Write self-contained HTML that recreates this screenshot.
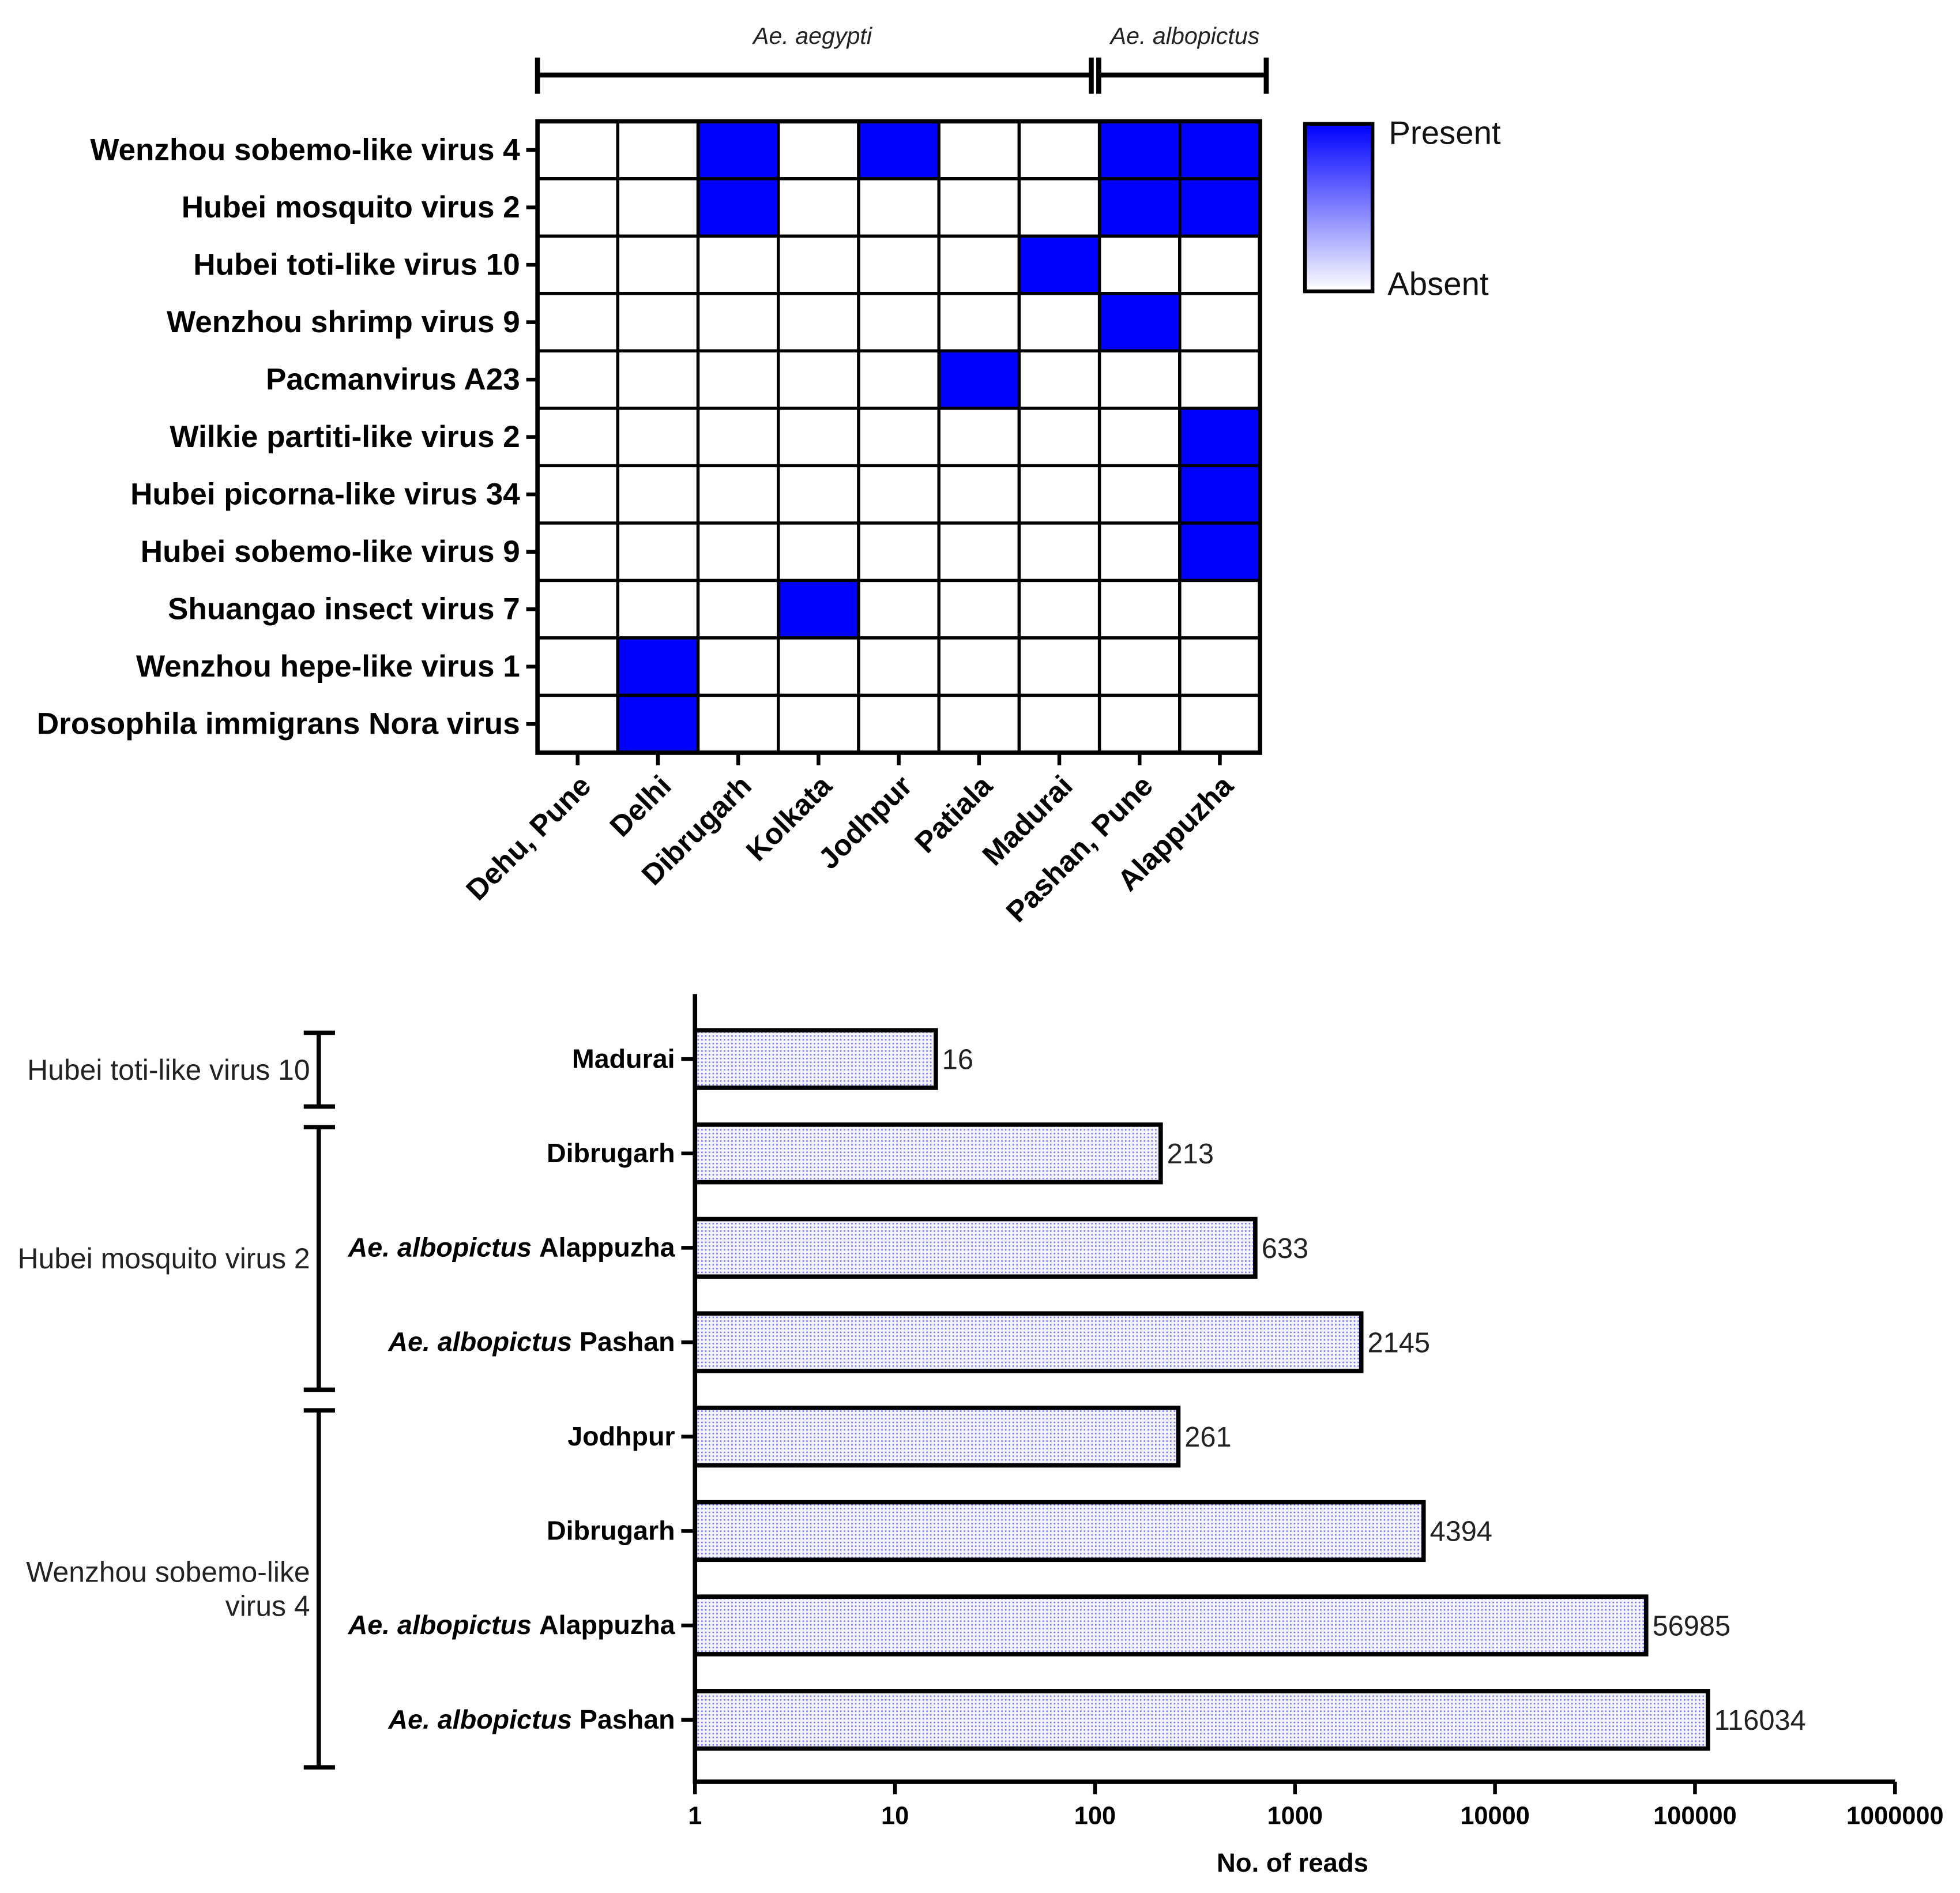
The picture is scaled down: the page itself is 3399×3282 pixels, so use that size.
<!DOCTYPE html>
<html><head><meta charset="utf-8"><style>
html,body{margin:0;padding:0;background:#fff;}
svg{display:block;font-family:"Liberation Sans",Arial,sans-serif;}
</style></head><body>
<svg id="fig" width="3399" height="3282" viewBox="0 0 1568 1514" xmlns="http://www.w3.org/2000/svg">
<defs>
<linearGradient id="lg" x1="0" y1="0" x2="0" y2="1"><stop offset="0" stop-color="#0000ff"/><stop offset="1" stop-color="#ffffff"/></linearGradient>
<pattern id="dots" width="3" height="3" patternUnits="userSpaceOnUse"><rect width="3" height="3" fill="#f4f4ff"/><rect x="0" y="0" width="1.2" height="1.2" fill="#7777ee"/></pattern>
</defs>
<g id="heat"></g>
<g id="bars"></g>
</svg>
<script>
const rowNames=["Wenzhou sobemo-like virus 4","Hubei mosquito virus 2","Hubei toti-like virus 10","Wenzhou shrimp virus 9","Pacmanvirus A23","Wilkie partiti-like virus 2","Hubei picorna-like virus 34","Hubei sobemo-like virus 9","Shuangao insect virus 7","Wenzhou hepe-like virus 1","Drosophila immigrans Nora virus"];
const colNames=["Dehu, Pune","Delhi","Dibrugarh","Kolkata","Jodhpur","Patiala","Madurai","Pashan, Pune","Alappuzha"];
const presence=[
[0,0,1,0,1,0,0,1,1],
[0,0,1,0,0,0,0,1,1],
[0,0,0,0,0,0,1,0,0],
[0,0,0,0,0,0,0,1,0],
[0,0,0,0,0,1,0,0,0],
[0,0,0,0,0,0,0,0,1],
[0,0,0,0,0,0,0,0,1],
[0,0,0,0,0,0,0,0,1],
[0,0,0,1,0,0,0,0,0],
[0,1,0,0,0,0,0,0,0],
[0,1,0,0,0,0,0,0,0]];
const barLabels=["Madurai","Dibrugarh","Alappuzha","Pashan","Jodhpur","Dibrugarh","Alappuzha","Pashan"];
const barItalic=[false,false,true,true,false,false,true,true];
const barValues=[16,213,633,2145,261,4394,56985,116034];
const xTicks=[1,10,100,1000,10000,100000,1000000];
const xTickLabels=["1","10","100","1000","10000","100000","1000000"];
const groups=[{name:["Hubei toti-like virus 10"],from:0,to:0},{name:["Hubei mosquito virus 2"],from:1,to:3},{name:["Wenzhou sobemo-like","virus 4"],from:4,to:7}];

const NS="http://www.w3.org/2000/svg";
function el(tag,attrs,parent,text){const e=document.createElementNS(NS,tag);for(const k in attrs)e.setAttribute(k,attrs[k]);if(text!==undefined)e.textContent=text;parent.appendChild(e);return e;}
const H=document.getElementById('heat');
const L=430,R=1008,T=97,B=602;
const cw=(R-L)/colNames.length, rh=(B-T)/rowNames.length;
presence.forEach((row,i)=>row.forEach((v,j)=>{
  const c=el('rect',{x:L+j*cw,y:T+i*rh,width:cw,height:rh,fill:v?'#0000ff':'#ffffff',stroke:'#000','stroke-width':2.5},H);
  
  
}));
el('rect',{x:L,y:T,width:R-L,height:B-T,fill:'none',stroke:'#000','stroke-width':3.5},H);
rowNames.forEach((n,i)=>{
  const y=T+(i+.5)*rh;
  el('line',{x1:L-9,x2:L,y1:y,y2:y,stroke:'#000','stroke-width':3},H);
  const t=el('text',{x:416,y:y+8,'text-anchor':'end','font-size':24.5,'font-weight':'bold'},H,n);
  
  
});
colNames.forEach((n,j)=>{
  const x=L+(j+.5)*cw;
  el('line',{x1:x,x2:x,y1:B,y2:B+10,stroke:'#000','stroke-width':3},H);
  const t=el('text',{x:0,y:0,'text-anchor':'end','font-size':23.5,'font-weight':'bold',transform:`translate(${x+12},${B+28}) rotate(-45)`},H,n);
  
  
});
el('path',{d:'M430 60H873M879 60H1013M430 46V75M873 46V75M879 46V75M1013 46V75',stroke:'#000','stroke-width':4,fill:'none'},H);
let s=el('text',{x:650,y:35,'text-anchor':'middle','font-size':19,'font-style':'italic',fill:'#222'},H,'Ae. aegypti');

s=el('text',{x:948,y:35,'text-anchor':'middle','font-size':19,'font-style':'italic',fill:'#222'},H,'Ae. albopictus');

const lg=el('rect',{x:1044,y:99,width:54,height:134,fill:'url(#lg)',stroke:'#000','stroke-width':3},H);

s=el('text',{x:1111,y:115,'font-size':26,fill:'#111'},H,'Present');
s=el('text',{x:1110,y:236,'font-size':26,fill:'#111'},H,'Absent');

const G=document.getElementById('bars');
const X0=556,PD=160,AT=795,AB=1425,Y0=847,BAND=75.5,BH=46;
const xs=v=>X0+Math.log10(v)*PD;
const ys=i=>Y0+i*BAND;
barValues.forEach((v,i)=>{
  const y=ys(i);
  const b=el('rect',{x:X0,y:y-BH/2,width:xs(v)-X0,height:BH,fill:'url(#dots)',stroke:'#000','stroke-width':3.5},G);
  
  const vl=el('text',{x:xs(v)+5,y:y+8,'font-size':22.5,fill:'#222'},G,String(v));
  
  el('line',{x1:X0-11,x2:X0,y1:y,y2:y,stroke:'#000','stroke-width':3},G);
  const t=el('text',{x:540,y:y+7,'text-anchor':'end','font-size':21.5,'font-weight':'bold'},G);
  
  if(barItalic[i]){el('tspan',{'font-style':'italic'},t,'Ae. albopictus ');}
  el('tspan',{},t,barLabels[i]);
});
el('path',{d:`M${X0} ${AT}V${AB}H${xs(1e6)}`,stroke:'#000','stroke-width':3.5,fill:'none'},G);
xTicks.forEach((v,i)=>{
  el('line',{x1:xs(v),x2:xs(v),y1:AB,y2:AB+10,stroke:'#000','stroke-width':3},G);
  const t=el('text',{x:xs(v),y:1459,'text-anchor':'middle','font-size':20,'font-weight':'bold'},G,xTickLabels[i]);
  
});
s=el('text',{x:1034,y:1497,'text-anchor':'middle','font-size':21,'font-weight':'bold'},G,'No. of reads');

groups.forEach(g=>{
  const y1=ys(g.from)-21,y2=ys(g.to)+38;
  el('path',{d:`M255 ${y1}V${y2}M243 ${y1}H268M243 ${y2}H268`,stroke:'#000','stroke-width':3.5,fill:'none'},G);
  const mid=(y1+y2)/2;
  g.name.forEach((ln,k)=>{
    const t=el('text',{x:248,y:mid+8+(k-(g.name.length-1)/2)*27,'text-anchor':'end','font-size':23,fill:'#222'},G,ln);
    
  });
});
</script>
</body></html>
